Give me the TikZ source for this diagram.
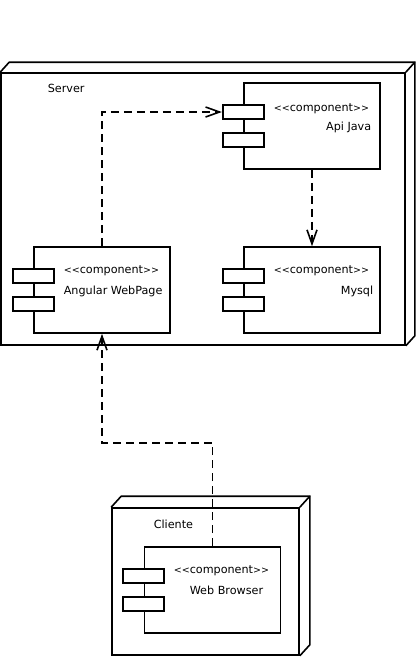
\documentclass[tikz,border=0pt]{standalone}
\usepackage{fontspec}
\usepackage{graphicx}
\setmainfont{DejaVu Sans}[Ligatures=TeXOff]
\usetikzlibrary{positioning,arrows.meta}
\newcommand\stereo[1]{\scalebox{0.85}[0.85]{<<}#1\scalebox{0.85}[0.85]{>>}}

\begin{document}
\begin{tikzpicture}[x=1pt,y=-1pt,line width=1.6pt,font=\fontsize{11.2pt}{13pt}\selectfont,
  unode/.style={draw,inner sep=0pt},
  comp/.style={draw,fill=white,minimum width=136pt,minimum height=86pt,inner sep=0pt},
  port/.style={draw,fill=white,minimum width=41pt,minimum height=14pt,inner sep=0pt},
  lbl/.style={inner sep=0pt},
  dep/.style={dash pattern=on 8pt off 5pt,-{Straight Barb[length=14pt,width=10pt]}}]
  \useasboundingbox (0,0) rectangle (416,657);
  % server node
  \node[unode,minimum width=404pt,minimum height=272pt] (server) at (203,209) {};
  \draw (server.north west) -- ++(9,-10) -- ([xshift=9pt,yshift=10pt]server.north east)
    -- ([xshift=9pt,yshift=10pt]server.south east) -- (server.south east);
  \draw (server.north east) -- ++(9,-10);
  \node[lbl,anchor=base west] (servertxt) at (47,92) {Server};
  % client node
  \node[unode,minimum width=187pt,minimum height=147pt] (cliente) at (205.5,581.5) {};
  \draw (cliente.north west) -- ++(10,-11) -- ([xshift=10pt,yshift=11pt]cliente.north east)
    -- ([xshift=10pt,yshift=11pt]cliente.south east) -- (cliente.south east);
  \draw (cliente.north east) -- ++(10,-11);
  \node[lbl,anchor=base west] (clientetxt) at (153,528) {Cliente};
  % components
  \node[comp] (api) at (312,126) {};
  \node[comp] (mysql) at (312,290) {};
  \node[comp] (ang) at (102,290) {};
  \node[comp] (web) at (212.5,590) {};
  \foreach \c in {api,mysql,ang,web}{
    \node[port] (\c p1) at ([yshift=14pt]\c.west) {};
    \node[port] (\c p2) at ([yshift=-14pt]\c.west) {};
  }
  \node[lbl,anchor=base west] (apist) at (273,111) {\stereo{component}};
  \node[lbl,anchor=base east] (apitxt) at (372,130) {Api Java};
  \node[lbl,anchor=base west] (mysqlst) at (273,273) {\stereo{component}};
  \node[lbl,anchor=base east] (mysqltxt) at (374,294) {Mysql};
  \node[lbl,anchor=base west] (angst) at (63,273) {\stereo{component}};
  \node[lbl,anchor=base west] (angtxt) at (63,294) {Angular WebPage};
  \node[lbl,anchor=base west] (webst) at (173,573) {\stereo{component}};
  \node[lbl,anchor=base west] (webtxt) at (189,594) {Web Browser};
  % dependencies
  \draw[dep] (ang.north) |- (apip1.west);
  \draw[dep] (api.south) -- (mysql.north);
  \draw[dep] (web.north) -- (web.north |- 0,443) -| (ang.south);
\end{tikzpicture}
\end{document}
